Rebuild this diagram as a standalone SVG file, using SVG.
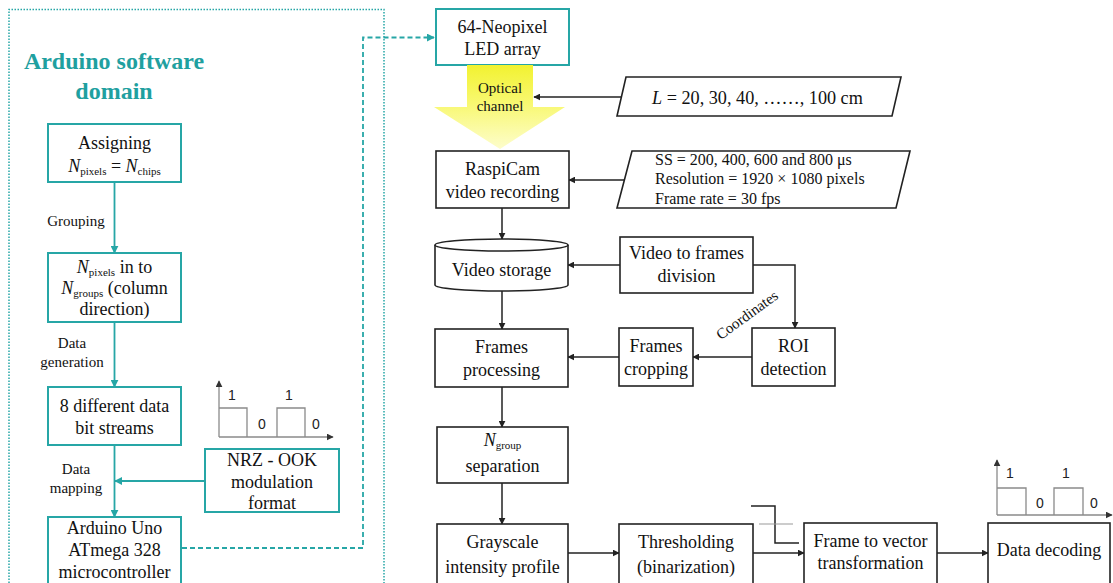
<svg xmlns="http://www.w3.org/2000/svg" width="1113" height="583" viewBox="0 0 1113 583">
<style>
text{font-family:"Liberation Serif","Times New Roman",serif;fill:#111}
.t{font-size:18px;text-anchor:middle}
.s{font-size:15px;text-anchor:middle}
.sub{font-size:11px}
.tb{fill:#fff;stroke:#26a6a6;stroke-width:2}
.bb{fill:#fff;stroke:#222;stroke-width:1.6}
.tl{fill:none;stroke:#26a6a6;stroke-width:1.8}
.bl{fill:none;stroke:#222;stroke-width:1.5}
.wf{fill:none;stroke:#8a8a8a;stroke-width:1.3}
.wd{font-family:"Liberation Sans",Arial,sans-serif;font-size:14px;fill:#222;text-anchor:middle}
</style>
<defs>
<marker id="ab" viewBox="0 0 10 10" refX="9" refY="5" markerWidth="7" markerHeight="7" markerUnits="userSpaceOnUse" orient="auto"><path d="M0,0 L10,5 L0,10 z" fill="#222"/></marker>
<marker id="at" viewBox="0 0 10 10" refX="9" refY="5" markerWidth="8" markerHeight="8" markerUnits="userSpaceOnUse" orient="auto"><path d="M0,0 L10,5 L0,10 z" fill="#26a6a6"/></marker>
<marker id="ag" viewBox="0 0 10 10" refX="9" refY="5" markerWidth="7" markerHeight="7" markerUnits="userSpaceOnUse" orient="auto"><path d="M0,0 L10,5 L0,10 z" fill="#333"/></marker>
<linearGradient id="yg" x1="0" y1="0" x2="0" y2="1">
<stop offset="0" stop-color="#f2f230"/>
<stop offset="0.45" stop-color="#f8f870"/>
<stop offset="1" stop-color="#fdfdcc"/>
</linearGradient>
</defs>

<!-- domain frame -->
<path d="M9,595 L9,9.5 L384,9.5 L384,595" fill="none" stroke="#26a6a6" stroke-width="1.5" stroke-dasharray="1.5,1.5"/>
<text x="114" y="69" style="font-size:24px;font-weight:bold;fill:#1fa0a0;text-anchor:middle">Arduino software</text>
<text x="114" y="99" style="font-size:24px;font-weight:bold;fill:#1fa0a0;text-anchor:middle">domain</text>

<g id="connectors">
<line x1="114.5" y1="182" x2="114.5" y2="253" class="tl" marker-end="url(#at)"/>
<line x1="114.5" y1="322" x2="114.5" y2="387" class="tl" marker-end="url(#at)"/>
<line x1="114.5" y1="445" x2="114.5" y2="517" class="tl" marker-end="url(#at)"/>
<line x1="205" y1="481" x2="115" y2="481" class="tl" marker-end="url(#at)"/>
<path d="M182,548 L363,548 L363,37.5 L434,37.5" class="tl" stroke-width="1.6" stroke-dasharray="5,3" marker-end="url(#at)"/>
<line x1="622" y1="97" x2="534" y2="97" class="bl" marker-end="url(#ab)"/>
<line x1="627" y1="180" x2="569" y2="180" class="bl" marker-end="url(#ab)"/>
<line x1="502" y1="208" x2="502" y2="239" class="bl" marker-end="url(#ab)"/>
<line x1="620" y1="265" x2="568" y2="265" class="bl" marker-end="url(#ab)"/>
<path d="M753,265 L795,265 L795,328" class="bl" marker-end="url(#ab)"/>
<line x1="502" y1="290" x2="502" y2="329" class="bl" marker-end="url(#ab)"/>
<line x1="752" y1="357" x2="693" y2="357" class="bl" marker-end="url(#ab)"/>
<line x1="619" y1="357" x2="568" y2="357" class="bl" marker-end="url(#ab)"/>
<line x1="502" y1="387" x2="502" y2="427" class="bl" marker-end="url(#ab)"/>
<line x1="502" y1="483" x2="502" y2="524" class="bl" marker-end="url(#ab)"/>
<line x1="568" y1="553" x2="619" y2="553" class="bl" marker-end="url(#ab)"/>
<line x1="753" y1="553" x2="804" y2="553" class="bl" marker-end="url(#ab)"/>
<line x1="937" y1="553" x2="988" y2="553" class="bl" marker-end="url(#ab)"/>
<path d="M751,506 L775,506 L775,543 L799,543" class="bl"/>
<line x1="759" y1="524" x2="793" y2="524" stroke="#999" stroke-width="1"/>
<text transform="translate(750,319) rotate(-36)" style="font-size:15px;text-anchor:middle">Coordinates</text>
</g>

<g id="assigning">
<rect x="48" y="124" width="133" height="58" class="tb"/>
<text x="114.5" y="149" class="t">Assigning</text>
<text x="114.5" y="172" class="t"><tspan font-style="italic">N</tspan><tspan class="sub" dy="3">pixels</tspan><tspan dy="-3"> = </tspan><tspan font-style="italic">N</tspan><tspan class="sub" dy="3">chips</tspan></text>
</g>
<text x="76" y="226" class="s">Grouping</text>

<g id="grouping">
<rect x="48" y="253" width="133" height="69" class="tb"/>
<text x="114.5" y="273" class="t"><tspan font-style="italic">N</tspan><tspan class="sub" dy="3">pixels</tspan><tspan dy="-3"> in to</tspan></text>
<text x="114.5" y="294" class="t"><tspan font-style="italic">N</tspan><tspan class="sub" dy="3">groups</tspan><tspan dy="-3"> (column</tspan></text>
<text x="114.5" y="315" class="t">direction)</text>
</g>
<text x="72" y="348" class="s">Data</text>
<text x="72" y="367" class="s">generation</text>

<g id="bitstreams">
<rect x="48" y="387" width="133" height="58" class="tb"/>
<text x="114.5" y="412" class="t">8 different data</text>
<text x="114.5" y="434" class="t">bit streams</text>
</g>
<text x="76" y="474" class="s">Data</text>
<text x="76" y="493" class="s">mapping</text>

<g id="arduino">
<rect x="48" y="517" width="133" height="70" class="tb"/>
<text x="114.5" y="534" class="t">Arduino Uno</text>
<text x="114.5" y="556" class="t">ATmega 328</text>
<text x="114.5" y="578" class="t">microcontroller</text>
</g>

<g id="nrz">
<rect x="205" y="449" width="134" height="63" class="tb"/>
<text x="272" y="466" class="t">NRZ - OOK</text>
<text x="272" y="488" class="t">modulation</text>
<text x="272" y="509" class="t">format</text>
</g>

<g id="waveform-left">
<line x1="219" y1="437" x2="219" y2="381" class="wf" marker-end="url(#ag)"/>
<line x1="219" y1="437" x2="333" y2="437" class="wf" marker-end="url(#ag)"/>
<path d="M219,408 L247,408 L247,437 M277,437 L277,408 L305,408 L305,437" class="wf"/>
<text x="232" y="400" class="wd">1</text>
<text x="289" y="400" class="wd">1</text>
<text x="262" y="429" class="wd">0</text>
<text x="316" y="429" class="wd">0</text>
</g>

<g id="led">
<rect x="436" y="9" width="133" height="56" class="tb"/>
<text x="502.5" y="33" class="t">64-Neopixel</text>
<text x="502.5" y="55" class="t">LED array</text>
</g>

<g id="optical">
<path d="M467,65 L533,65 L533,107 L565,107 L500,149 L434,107 L467,107 z" fill="url(#yg)"/>
<text x="500" y="93" class="s">Optical</text>
<text x="500" y="111" class="s">channel</text>
</g>

<g id="distance">
<path d="M626,77 L901,77 L892,116 L617,116 z" class="bb"/>
<text x="652" y="104" style="font-size:18.2px"><tspan font-style="italic">L</tspan> = 20, 30, 40, ……, 100 cm</text>
</g>

<g id="raspicam">
<rect x="436" y="151" width="133" height="57" class="bb"/>
<text x="502.5" y="175" class="t">RaspiCam</text>
<text x="502.5" y="198" class="t">video recording</text>
</g>

<g id="params">
<path d="M632,151 L910,151 L896,208 L617,208 z" class="bb"/>
<text x="655" y="165" style="font-size:16px">SS = 200, 400, 600 and 800 μs</text>
<text x="655" y="184" style="font-size:16px">Resolution  = 1920 × 1080 pixels</text>
<text x="655" y="204" style="font-size:16px">Frame rate = 30 fps</text>
</g>

<g id="storage">
<path d="M435,245 L435,285 A66.5,6 0 0 0 568,285 L568,245" class="bb"/>
<ellipse cx="501.5" cy="245" rx="66.5" ry="6" class="bb"/>
<text x="501.5" y="276" class="t">Video storage</text>
</g>

<g id="division">
<rect x="620" y="237" width="133" height="56" class="bb"/>
<text x="686.5" y="259" class="t">Video to frames</text>
<text x="686.5" y="282" class="t">division</text>
</g>

<g id="roi">
<rect x="752" y="328" width="83" height="58" class="bb"/>
<text x="793.5" y="352" class="t">ROI</text>
<text x="793.5" y="375" class="t">detection</text>
</g>

<g id="cropping">
<rect x="619" y="328" width="74" height="58" class="bb"/>
<text x="656" y="352" class="t">Frames</text>
<text x="656" y="375" class="t">cropping</text>
</g>

<g id="processing">
<rect x="435" y="329" width="133" height="58" class="bb"/>
<text x="501.5" y="353" class="t">Frames</text>
<text x="501.5" y="376" class="t">processing</text>
</g>

<g id="ngroup">
<rect x="437" y="427" width="131" height="56" class="bb"/>
<text x="502.5" y="446" class="t"><tspan font-style="italic">N</tspan><tspan class="sub" dy="3">group</tspan></text>
<text x="502.5" y="472" class="t">separation</text>
</g>

<g id="grayscale">
<rect x="437" y="524" width="131" height="62" class="bb"/>
<text x="502.5" y="548" class="t">Grayscale</text>
<text x="502.5" y="573" class="t">intensity profile</text>
</g>

<g id="thresholding">
<rect x="619" y="524" width="134" height="62" class="bb"/>
<text x="686" y="548" class="t">Thresholding</text>
<text x="686" y="573" class="t">(binarization)</text>
</g>

<g id="vector">
<rect x="804" y="523" width="133" height="63" class="bb"/>
<text x="870.5" y="547" class="t">Frame to vector</text>
<text x="870.5" y="569" class="t">transformation</text>
</g>

<g id="decoding">
<rect x="988" y="523" width="122" height="63" class="bb"/>
<text x="1049" y="556" class="t">Data decoding</text>
</g>

<g id="waveform-right">
<line x1="997" y1="515" x2="997" y2="460" class="wf" marker-end="url(#ag)"/>
<line x1="997" y1="515" x2="1112" y2="515" class="wf" marker-end="url(#ag)"/>
<path d="M997,488 L1026,488 L1026,515 M1054,515 L1054,488 L1083,488 L1083,515" class="wf"/>
<text x="1010" y="478" class="wd">1</text>
<text x="1066" y="478" class="wd">1</text>
<text x="1040" y="508" class="wd">0</text>
<text x="1094" y="508" class="wd">0</text>
</g>
</svg>
